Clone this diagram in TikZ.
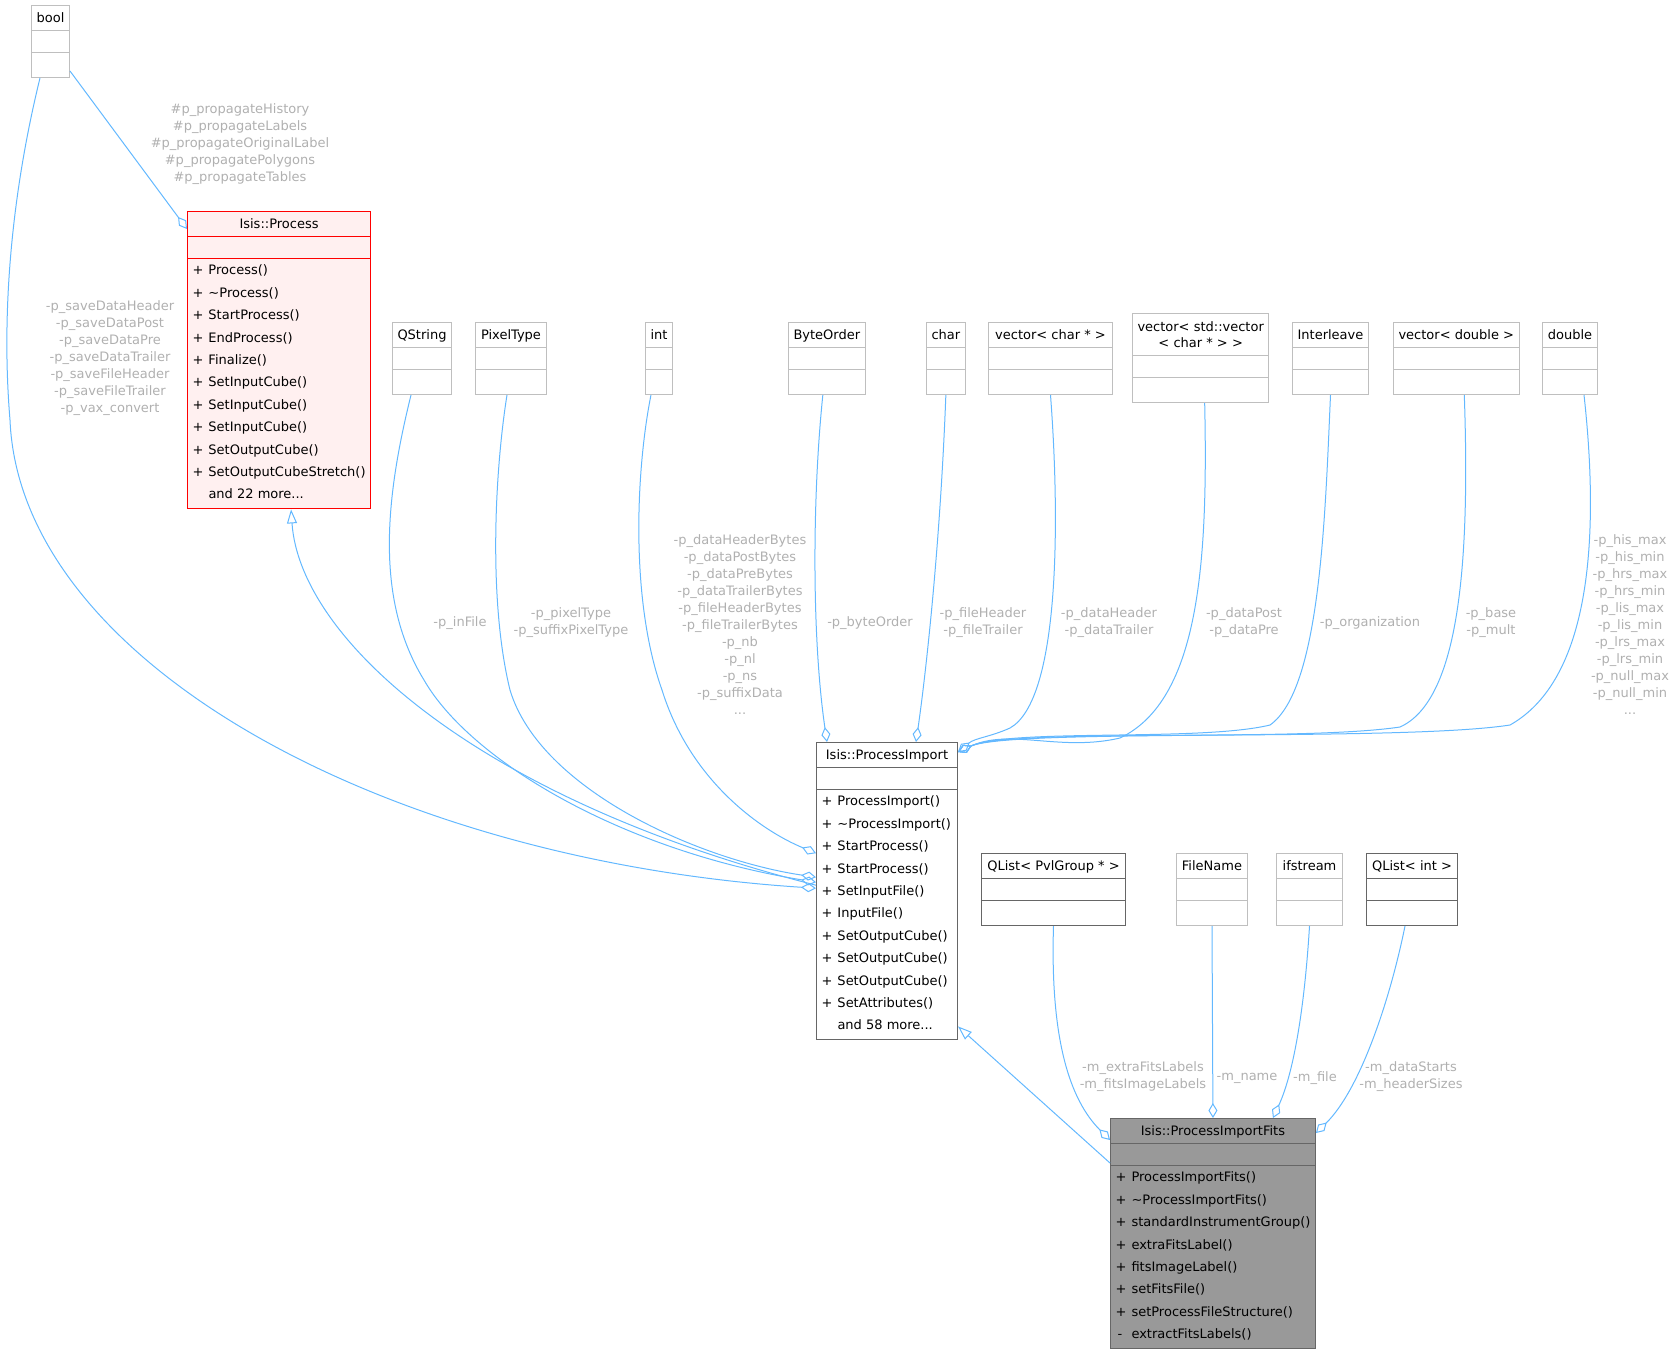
\documentclass[tikz,border=0pt]{standalone}
\usepackage{fontspec}
\setmainfont{DejaVu Sans}
\usetikzlibrary{arrows.meta,shapes.multipart}

\definecolor{edgeblue}{HTML}{63B8FF}
\definecolor{labelgray}{HTML}{B0B0B0}
\definecolor{boxgray}{HTML}{BFBFBF}
\definecolor{darkgray}{HTML}{666666}
\definecolor{procfill}{HTML}{FFF0F0}
\definecolor{fitsfill}{HTML}{999999}

\renewcommand{\arraystretch}{0}
\newcommand{\hstrut}{\rule[-6pt]{0pt}{21pt}}
\newcommand{\erow}{\rule{0pt}{18pt}}
\newcommand{\frow}{\rule{0pt}{21pt}}
\newcommand{\meth}[2]{\rule[-8pt]{0pt}{22.4pt}\makebox[16pt][l]{#1}#2}

\begin{document}
\begin{tikzpicture}[
    x=1pt, y=-1pt,
    font=\fontsize{13}{17}\selectfont,
    cls/.style={rectangle split, rectangle split parts=3, draw=boxgray, line width=1pt,
        inner xsep=5pt, inner ysep=1.5pt, anchor=north west,
        rectangle split part align={center,left,left}},
    dark/.style={draw=darkgray},
    agg/.style={draw=edgeblue, line width=1pt, -{Diamond[open, length=15pt, width=9pt]}},
    inh/.style={draw=edgeblue, line width=1pt, -{Triangle[open, length=14pt, width=10pt]}},
    lbl/.style={text=labelgray, align=center, inner sep=0pt}
]
\useasboundingbox (0,0) rectangle (1676,1353);

\node[cls, minimum width=38pt] (booltype) at (31,5) {\hstrut bool\nodepart{two}\erow\nodepart{three}\frow};
\node[cls, draw=red, fill=procfill, minimum width=181pt] (process) at (187,211) {\hstrut Isis::Process\nodepart{two}\erow\nodepart{three}%
\begin{tabular}{@{}l@{}}\meth{+}{Process()}\\\meth{+}{\textasciitilde Process()}\\\meth{+}{StartProcess()}\\\meth{+}{EndProcess()}\\\meth{+}{Finalize()}\\\meth{+}{SetInputCube()}\\\meth{+}{SetInputCube()}\\\meth{+}{SetInputCube()}\\\meth{+}{SetOutputCube()}\\\meth{+}{SetOutputCubeStretch()}\\\meth{}{and 22 more...}\end{tabular}};

\node[cls, minimum width=58pt]  (qstring)    at (392,322)  {\hstrut QString\nodepart{two}\erow\nodepart{three}\frow};
\node[cls, minimum width=71pt]  (pixeltype)  at (475,322)  {\hstrut PixelType\nodepart{two}\erow\nodepart{three}\frow};
\node[cls, minimum width=26pt]  (inttype)    at (645,322)  {\hstrut int\nodepart{two}\erow\nodepart{three}\frow};
\node[cls, minimum width=76pt]  (byteorder)  at (788,322)  {\hstrut ByteOrder\nodepart{two}\erow\nodepart{three}\frow};
\node[cls, minimum width=37pt]  (chartype)   at (926,322)  {\hstrut char\nodepart{two}\erow\nodepart{three}\frow};
\node[cls, minimum width=124pt] (vecchar)    at (988,322)  {\hstrut vector< char * >\nodepart{two}\erow\nodepart{three}\frow};
\node[cls, minimum width=136pt] (vecvec)     at (1132,313) {\begin{tabular}{@{}c@{}}\rule{0pt}{16pt}vector< std::vector\\\rule[-6pt]{0pt}{22pt}< char * > >\end{tabular}\nodepart{two}\erow\nodepart{three}\frow};
\node[cls, minimum width=76pt]  (interleave) at (1292,322) {\hstrut Interleave\nodepart{two}\erow\nodepart{three}\frow};
\node[cls, minimum width=125pt] (vecdouble)  at (1393,322) {\hstrut vector< double >\nodepart{two}\erow\nodepart{three}\frow};
\node[cls, minimum width=55pt]  (doubletype) at (1542,322) {\hstrut double\nodepart{two}\erow\nodepart{three}\frow};

\node[cls, dark, minimum width=141pt] (procimport) at (816,742) {\hstrut Isis::ProcessImport\nodepart{two}\erow\nodepart{three}%
\begin{tabular}{@{}l@{}}\meth{+}{ProcessImport()}\\\meth{+}{\textasciitilde ProcessImport()}\\\meth{+}{StartProcess()}\\\meth{+}{StartProcess()}\\\meth{+}{SetInputFile()}\\\meth{+}{InputFile()}\\\meth{+}{SetOutputCube()}\\\meth{+}{SetOutputCube()}\\\meth{+}{SetOutputCube()}\\\meth{+}{SetAttributes()}\\\meth{}{and 58 more...}\end{tabular}};

\node[cls, dark, minimum width=144pt] (qlistpvl) at (981,853)  {\hstrut QList< PvlGroup * >\nodepart{two}\erow\nodepart{three}\frow};
\node[cls, minimum width=71pt]        (filename) at (1176,853) {\hstrut FileName\nodepart{two}\erow\nodepart{three}\frow};
\node[cls, minimum width=66pt]        (ifstream) at (1276,853) {\hstrut ifstream\nodepart{two}\erow\nodepart{three}\frow};
\node[cls, dark, minimum width=91pt]  (qlistint) at (1366,853) {\hstrut QList< int >\nodepart{two}\erow\nodepart{three}\frow};

\node[cls, dark, fill=fitsfill, minimum width=204pt] (importfits) at (1110,1118) {\hstrut Isis::ProcessImportFits\nodepart{two}\erow\nodepart{three}%
\begin{tabular}{@{}l@{}}\meth{+}{ProcessImportFits()}\\\meth{+}{\textasciitilde ProcessImportFits()}\\\meth{+}{standardInstrumentGroup()}\\\meth{+}{extraFitsLabel()}\\\meth{+}{fitsImageLabel()}\\\meth{+}{setFitsFile()}\\\meth{+}{setProcessFileStructure()}\\\meth{\,-}{extractFitsLabels()}\end{tabular}};

\node[lbl] (lprop)   at (240,144)  {\#p\_propagateHistory\\\#p\_propagateLabels\\\#p\_propagateOriginalLabel\\\#p\_propagatePolygons\\\#p\_propagateTables};
\node[lbl] (lsave)   at (110,358)  {-p\_saveDataHeader\\-p\_saveDataPost\\-p\_saveDataPre\\-p\_saveDataTrailer\\-p\_saveFileHeader\\-p\_saveFileTrailer\\-p\_vax\_convert};
\node[lbl] (linfile) at (460,623)  {-p\_inFile};
\node[lbl] (lpixel)  at (571,623)  {-p\_pixelType\\-p\_suffixPixelType};
\node[lbl] (lint)    at (740,625)  {-p\_dataHeaderBytes\\-p\_dataPostBytes\\-p\_dataPreBytes\\-p\_dataTrailerBytes\\-p\_fileHeaderBytes\\-p\_fileTrailerBytes\\-p\_nb\\-p\_nl\\-p\_ns\\-p\_suffixData\\...};
\node[lbl] (lbyte)   at (870,623)  {-p\_byteOrder};
\node[lbl] (lchar)   at (983,623)  {-p\_fileHeader\\-p\_fileTrailer};
\node[lbl] (lvchar)  at (1109,623) {-p\_dataHeader\\-p\_dataTrailer};
\node[lbl] (lvvec)   at (1244,623) {-p\_dataPost\\-p\_dataPre};
\node[lbl] (linter)  at (1370,623) {-p\_organization};
\node[lbl] (lvdbl)   at (1491,623) {-p\_base\\-p\_mult};
\node[lbl] (ldbl)    at (1630,625) {-p\_his\_max\\-p\_his\_min\\-p\_hrs\_max\\-p\_hrs\_min\\-p\_lis\_max\\-p\_lis\_min\\-p\_lrs\_max\\-p\_lrs\_min\\-p\_null\_max\\-p\_null\_min\\...};
\node[lbl] (lqpvl)   at (1143,1077) {-m\_extraFitsLabels\\-m\_fitsImageLabels};
\node[lbl] (lfname)  at (1247,1078) {-m\_name};
\node[lbl] (lifs)    at (1315,1078) {-m\_file};
\node[lbl] (lqint)   at (1411,1077) {-m\_dataStarts\\-m\_headerSizes};

\draw[agg] ([yshift=7pt]booltype.south east) -- ([yshift=-18pt]process.north west);
\draw[agg] ([xshift=9pt]booltype.south west) .. controls (15,180) and (0,300) .. (10,420) .. controls (20,660) and (380,860) .. ([yshift=3pt]procimport.west);
\draw[inh] ([yshift=6pt]procimport.west) .. controls (480,800) and (300,640) .. ([xshift=12pt]process.south);
\draw[agg] ([xshift=-11pt]qstring.south) .. controls (385,500) and (375,600) .. (424,680) .. controls (470,760) and (620,850) .. ([yshift=9pt]procimport.west);
\draw[agg] ([xshift=-4pt]pixeltype.south) .. controls (495,470) and (488,600) .. (510,690) .. controls (540,790) and (700,860) .. ([yshift=14pt]procimport.west);
\draw[agg] ([xshift=-8pt]inttype.south) .. controls (636,470) and (630,600) .. (662,690) .. controls (690,780) and (760,830) .. ([yshift=38pt]procimport.west);
\draw[agg] ([xshift=-4pt]byteorder.south) .. controls (812,500) and (812,640) .. ([xshift=-60pt]procimport.north);
\draw[agg] (chartype.south) .. controls (940,550) and (925,680) .. ([xshift=29pt]procimport.north);
\draw[agg] (vecchar.south) .. controls (1060,520) and (1060,700) .. (1010,728) .. controls (990,737) and (975,738) .. ([yshift=-10pt]procimport.north east);
\draw[agg] ([xshift=4pt]vecvec.south) .. controls (1208,560) and (1200,700) .. (1120,738) .. controls (1060,752) and (1010,728) .. ([yshift=-10pt]procimport.north east);
\draw[agg] (interleave.south) .. controls (1325,520) and (1320,690) .. (1270,725) .. controls (1200,742) and (1010,728) .. ([yshift=-10pt]procimport.north east);
\draw[agg] ([xshift=8pt]vecdouble.south) .. controls (1470,560) and (1460,700) .. (1400,727) .. controls (1300,742) and (1010,728) .. ([yshift=-10pt]procimport.north east);
\draw[agg] ([xshift=14pt]doubletype.south) .. controls (1600,540) and (1590,680) .. (1510,725) .. controls (1400,742) and (1010,728) .. ([yshift=-10pt]procimport.north east);
\draw[agg] (qlistpvl.south) .. controls (1050,1040) and (1070,1100) .. ([yshift=-22pt]importfits.north west);
\draw[agg] (filename.south) -- (importfits.north);
\draw[agg] (ifstream.south) .. controls (1305,1000) and (1295,1070) .. ([xshift=60pt]importfits.north);
\draw[agg] ([xshift=-7pt]qlistint.south) .. controls (1390,1000) and (1360,1090) .. ([yshift=-15pt]importfits.north east);
\draw[inh] ([yshift=-45pt]importfits.north west) -- ([yshift=14pt]procimport.south east);
\end{tikzpicture}
\end{document}
